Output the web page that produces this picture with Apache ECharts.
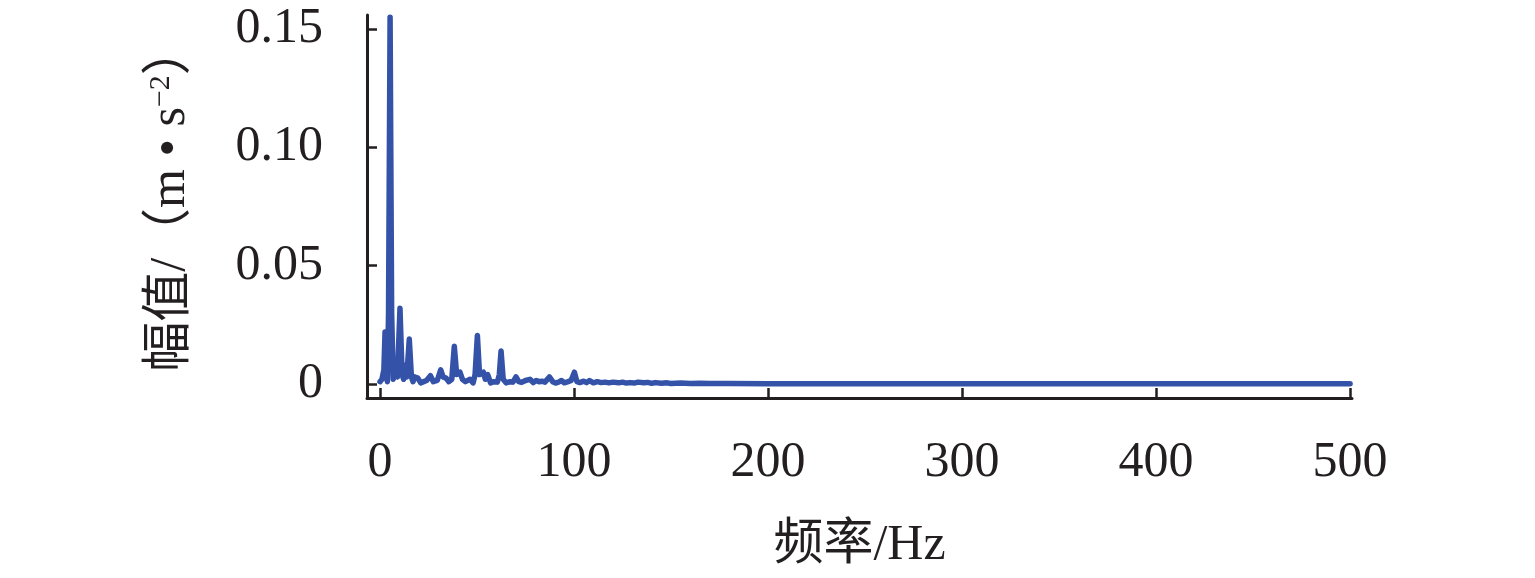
<!DOCTYPE html>
<html>
<head>
<meta charset="utf-8">
<script src="https://cdn.jsdelivr.net/npm/echarts@6/dist/echarts.min.js"></script>
<style>
html,body{margin:0;padding:0;background:#fff;}
#c{width:1535px;height:578px;}
</style>
</head>
<body>
<div id="c"></div>
<script>
// Frequency (Hz) and amplitude (m·s^-2)
const freq = [0,1,2,2.6,3.3,3.8,4.4,5.2,6.0,6.8,7.5,8.2,9.0,10.3,11.4,12.2,13.0,13.8,15.1,16.2,17.0,18.0,19.5,21,22.5,24,26,27.5,29.5,31.3,32.5,34,35.5,37,38.3,39.5,41.2,42.5,44,46.4,48,49,50.2,51.3,53.3,54.3,55.5,57,58.5,60.5,61.5,62.4,63.5,65,67,68.5,70.1,71.5,73,75,76,77.3,79,80.5,82,83.5,85,87.3,89,90.5,92,93.6,95,97,98.5,100.2,101.5,103,105,106.5,108,110,112,114,116,118,120,121,123,125,127,129,131,133,134,136,138,140,142,145,148,150,155,160,165,170,180,200,300,400,500];
const amp = [0.001,0.002,0.006,0.022,0.004,0.001,0.03,0.155,0.03,0.002,0.004,0.008,0.003,0.032,0.004,0.002,0.008,0.003,0.019,0.003,0.001,0.003,0.0025,0.0005,0.001,0.0015,0.0035,0.001,0.0015,0.006,0.003,0.0025,0.001,0.002,0.016,0.004,0.005,0.002,0.001,0.002,0.0005,0.004,0.0205,0.004,0.005,0.002,0.004,0.0005,0.001,0.0008,0.004,0.014,0.002,0.0005,0.001,0.0008,0.003,0.001,0.0007,0.0015,0.0008,0.002,0.0006,0.0015,0.001,0.0012,0.0008,0.003,0.001,0.0004,0.0008,0.0015,0.0005,0.001,0.0015,0.005,0.001,0.0006,0.0012,0.0006,0.0015,0.0005,0.001,0.0006,0.0008,0.0005,0.0008,0.0012,0.0005,0.0008,0.0004,0.0006,0.0004,0.0008,0.001,0.0005,0.0007,0.0003,0.0006,0.0003,0.0005,0.0002,0.0004,0.0002,0.0003,0.0002,0.0002,0.0001,0.0001,0.0001,0.0001];
const xTicks = [0,100,200,300,400,500];
const yTicks = [0,0.05,0.10,0.15];
const xName = '频率/Hz';

const FONT = '"Liberation Serif", "Noto Sans CJK SC", serif';
const INK = '#231f20';
const chart = echarts.init(document.getElementById('c'), null, {renderer:'canvas'});
chart.setOption({
  animation:false,
  backgroundColor:'#ffffff',
  grid:{left:367, right:183, top:15, bottom:180, containLabel:false},
  xAxis:{
    type:'value', min:-6.7, max:501,
    name:xName, nameLocation:'middle', nameGap:123,
    nameTextStyle:{fontFamily:FONT, fontSize:50, color:INK},
    axisLine:{show:true, onZero:false, lineStyle:{color:INK, width:3}},
    axisTick:{show:true, inside:true, length:10, customValues:xTicks, lineStyle:{color:INK, width:2.5}},
    axisLabel:{show:true, customValues:xTicks, margin:40, fontFamily:FONT, fontSize:50, color:INK},
    splitLine:{show:false}
  },
  yAxis:{
    type:'value', min:-0.0059, max:0.1559,
    name:'{a|幅值/（m • s}{s|−2}{a|）}', nameLocation:'middle', nameGap:171,
    nameTextStyle:{fontFamily:FONT, fontSize:50, color:INK, padding:[0,0,0,16],
      rich:{a:{fontFamily:FONT, fontSize:50, color:INK}, s:{fontFamily:FONT, fontSize:30, color:INK, verticalAlign:'top'}}},
    axisLine:{show:true, onZero:false, lineStyle:{color:INK, width:3}},
    axisTick:{show:true, inside:true, length:10, customValues:yTicks, lineStyle:{color:INK, width:2.5}},
    axisLabel:{show:true, customValues:yTicks, margin:44, fontFamily:FONT, fontSize:50, color:INK,
      formatter:function(v){return v===0?'0':v.toFixed(2);}},
    splitLine:{show:false}
  },
  series:[{
    type:'line', showSymbol:false, symbol:'none', clip:false,
    data: freq.map(function(f,i){return [f, amp[i]];}),
    lineStyle:{color:'#3352a8', width:5.5, join:'round', cap:'round'}
  }]
});
</script>
</body>
</html>
